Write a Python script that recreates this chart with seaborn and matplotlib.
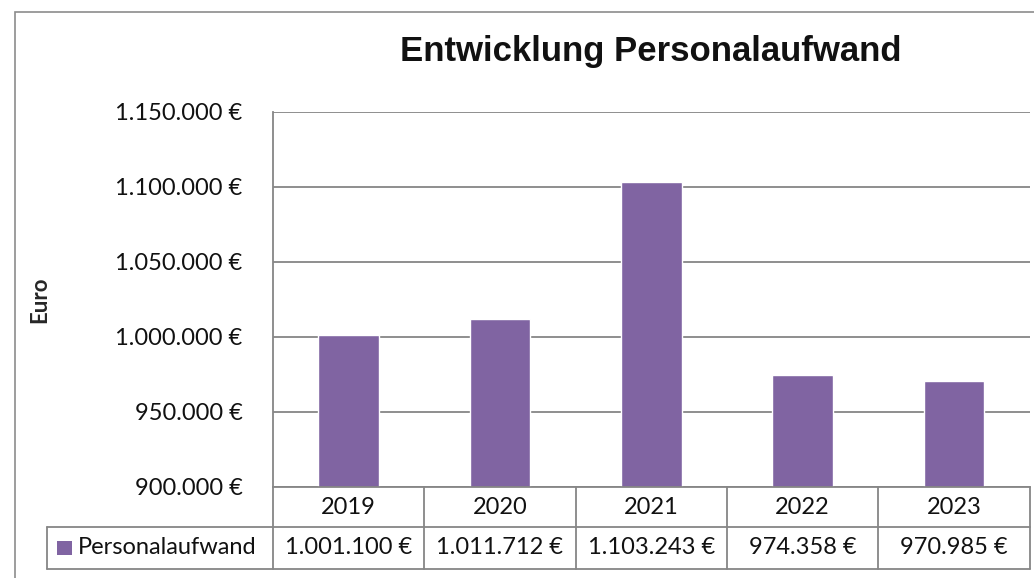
import matplotlib
matplotlib.use("Agg")
import matplotlib.pyplot as plt
import matplotlib.transforms as mtransforms
from matplotlib.patches import Rectangle
import seaborn as sns
import pandas as pd

years = ["2019", "2020", "2021", "2022", "2023"]
values = [1001100, 1011712, 1103243, 974358, 970985]
series_name = "Personalaufwand"
title = "Entwicklung Personalaufwand"
y_label = "Euro"
y_ticks = [900000, 950000, 1000000, 1050000, 1100000, 1150000]

BAR = "#8064A2"
GRID = "#868686"
FONT = "Lato"
FS = 17

sns.set_theme(style="white")
plt.rcParams["font.family"] = [FONT, "DejaVu Sans"]

W, H = 1034, 578
fig = plt.figure(figsize=(W / 100, H / 100), dpi=100)

def fx(px):
    return px / W

def fy(py):
    return 1 - py / H

# outer chart border
fig.add_artist(Rectangle((fx(15), fy(600)), fx(1040) - fx(15), fy(12) - fy(600),
                         transform=fig.transFigure, fill=False, edgecolor="#8c8c8c", lw=1.2))

left, right, top, bottom = 273, 1029.5, 112, 487
ax = fig.add_axes([fx(left), fy(bottom), fx(right) - fx(left), fy(top) - fy(bottom)])

df = pd.DataFrame({"Jahr": years, "Wert": values})
sns.barplot(data=df, x="Jahr", y="Wert", color=BAR, width=0.4, saturation=1, ax=ax)

ax.set_xlim(-0.5, len(years) - 0.5)
ax.set_ylim(y_ticks[0], y_ticks[-1])
ax.set_yticks(y_ticks)
ax.set_yticklabels([f"{v:,.0f}".replace(",", ".") + " €" for v in y_ticks], fontsize=FS)
ax.set_xticks([])
ax.set_xlabel("")
ax.set_ylabel(y_label, fontsize=16, fontweight="bold")
ax.yaxis.set_label_coords((40 - left) / (right - left), 0.5)
ax.yaxis.label.set_va("center")
ax.tick_params(axis="y", length=0, pad=22, colors="#111111")
ax.grid(axis="y", color=GRID, lw=1.3)
ax.set_axisbelow(True)
for s in ["top", "right"]:
    ax.spines[s].set_visible(False)
for s in ["left", "bottom"]:
    ax.spines[s].set_color(GRID)
    ax.spines[s].set_linewidth(1.3)

fig.text(fx(651), fy(52), title, ha="center", va="center", fontsize=25, fontweight="bold",
         family=["Liberation Sans", "DejaVu Sans"], color="#111111")

# data table
tr = mtransforms.blended_transform_factory(ax.transData, ax.transAxes)
ph = bottom - top
unit = (right - left) / len(years)
h1 = -40 / ph
h2 = -82 / ph
xl = -0.5 - (left - 47) / unit
xr = len(years) - 0.5
lkw = dict(color=GRID, lw=1.3, transform=tr, clip_on=False)
ax.plot([xl, xr], [h1, h1], **lkw)
ax.plot([xl, xr], [h2, h2], **lkw)
ax.plot([xl, xl], [h1, h2], **lkw)
for i in range(len(years) + 1):
    ax.plot([i - 0.5, i - 0.5], [0, h2], **lkw)
for i, (yr, v) in enumerate(zip(years, values)):
    ax.text(i, h1 / 2, yr, ha="center", va="center", fontsize=FS, transform=tr, color="#111111")
    ax.text(i, (h1 + h2) / 2, f"{v:,.0f}".replace(",", ".") + " €", ha="center", va="center",
            fontsize=FS, transform=tr, color="#111111")
# legend key
ax.add_patch(Rectangle((xl + 10 / unit, (h1 + h2) / 2 - 7 / ph), 15 / unit, 14 / ph,
                       transform=tr, clip_on=False, facecolor=BAR, edgecolor="none"))
ax.text(xl + 31 / unit, (h1 + h2) / 2, series_name, ha="left", va="center", fontsize=FS,
        transform=tr, color="#111111")

fig.savefig("out.png", dpi=100)
